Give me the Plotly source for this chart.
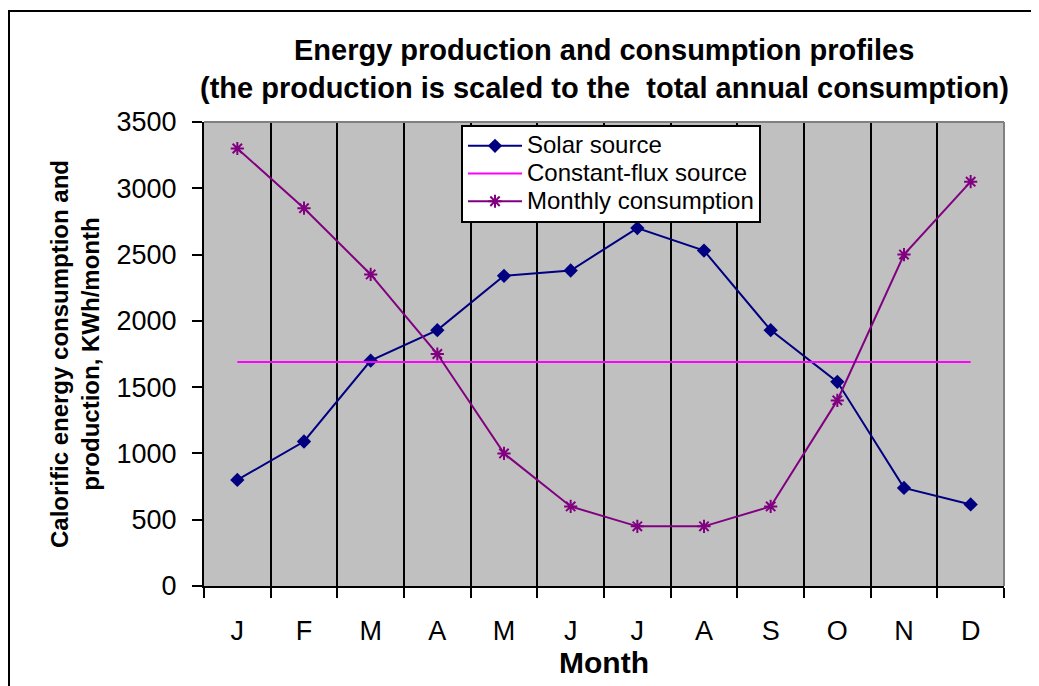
import plotly.graph_objects as go

months = ["Jan", "Feb", "Mar", "Apr", "May", "Jun", "Jul", "Aug", "Sep", "Oct", "Nov", "Dec"]
month_letters = ["J", "F", "M", "A", "M", "J", "J", "A", "S", "O", "N", "D"]
solar = [800, 1090, 1700, 1930, 2340, 2380, 2700, 2530, 1930, 1540, 740, 615]
constant_flux = [1690, 1690, 1690, 1690, 1690, 1690, 1690, 1690, 1690, 1690, 1690, 1690]
consumption = [3300, 2850, 2350, 1750, 1000, 600, 450, 450, 600, 1400, 2500, 3050]
y_ticks = [0, 500, 1000, 1500, 2000, 2500, 3000, 3500]
series_names = ["Solar source", "Constant-flux source", "Monthly consumption"]

FONT = "Liberation Sans, Arial, sans-serif"
LEG = '<span style="font-size:24px">{}</span>'

fig = go.Figure()
fig.add_trace(go.Scatter(
    x=months, y=solar, name=LEG.format(series_names[0]), mode="lines+markers",
    line=dict(color="#000080", width=2),
    marker=dict(symbol="diamond", size=11, color="#000080"),
))
fig.add_trace(go.Scatter(
    x=months, y=constant_flux, name=LEG.format(series_names[1]), mode="lines",
    line=dict(color="#FF00FF", width=2),
))
fig.add_trace(go.Scatter(
    x=months, y=consumption, name=LEG.format(series_names[2]), mode="lines+markers",
    line=dict(color="#800080", width=2),
    marker=dict(symbol="asterisk-open", size=11, color="#800080", line=dict(color="#800080", width=2)),
))

# page body has an 8px margin; positions below are given in viewport pixels
OFF = 8
W, H = 1039, 686
L, R, T, B = 196, 43, 114, 108
pw, ph = W - L - R, H - T - B

def px_x(x):
    return (x - OFF - L) / pw

def px_y(y):
    return (H - B - (y - OFF)) / ph

fig.update_layout(
    width=W, height=H,
    margin=dict(l=L, r=R, t=T, b=B),
    paper_bgcolor="white",
    plot_bgcolor="#C0C0C0",
    font=dict(family=FONT, color="black", size=27),
    showlegend=True,
    legend=dict(
        x=px_x(461), y=px_y(125), xanchor="left", yanchor="top",
        bgcolor="white", bordercolor="black", borderwidth=2,
        font=dict(family=FONT, size=19, color="black"),
        tracegroupgap=0, itemwidth=54,
    ),
    xaxis=dict(
        type="category", tickmode="array", tickvals=months, ticktext=month_letters,
        tickson="boundaries", ticks="outside", ticklen=10, tickwidth=2, tickcolor="black",
        showgrid=True, gridcolor="black", gridwidth=2,
        showline=True, linecolor="black", linewidth=2,
        tickfont=dict(size=27), ticklabelstandoff=20,
        title=dict(text="<b>Month</b>", font=dict(size=30), standoff=6),
        range=[-0.5, 11.5],
    ),
    yaxis=dict(
        range=[0, 3500], tickmode="array", tickvals=y_ticks,
        ticks="outside", ticklen=10, tickwidth=2, tickcolor="black",
        showgrid=False, zeroline=False,
        showline=True, linecolor="black", linewidth=2,
        tickfont=dict(size=27), ticklabelstandoff=10,
        title=dict(text="<b>Calorific energy consumption and<br>production, KWh/month</b>",
                   font=dict(size=24), standoff=10),
    ),
    shapes=[
        dict(type="line", xref="paper", yref="paper", x0=0, x1=1, y0=1, y1=1,
             line=dict(color="#808080", width=2), layer="above"),
        dict(type="line", xref="paper", yref="paper", x0=1, x1=1, y0=0, y1=1,
             line=dict(color="#808080", width=2), layer="above"),
        dict(type="rect", xref="paper", yref="paper",
             x0=px_x(9), x1=px_x(1070), y0=px_y(720), y1=px_y(11),
             line=dict(color="black", width=2), fillcolor="rgba(0,0,0,0)", layer="below"),
    ],
    annotations=[
        dict(text="<b>Energy production and consumption profiles</b>",
             xref="paper", yref="paper", x=0.5, y=px_y(50), xanchor="center", yanchor="middle",
             showarrow=False, font=dict(size=29, family=FONT)),
        dict(text="<b>(the production is scaled to the  total annual consumption)</b>",
             xref="paper", yref="paper", x=0.5, y=px_y(88), xanchor="center", yanchor="middle",
             showarrow=False, font=dict(size=29, family=FONT)),
    ],
)

fig.write_html("out.html")
